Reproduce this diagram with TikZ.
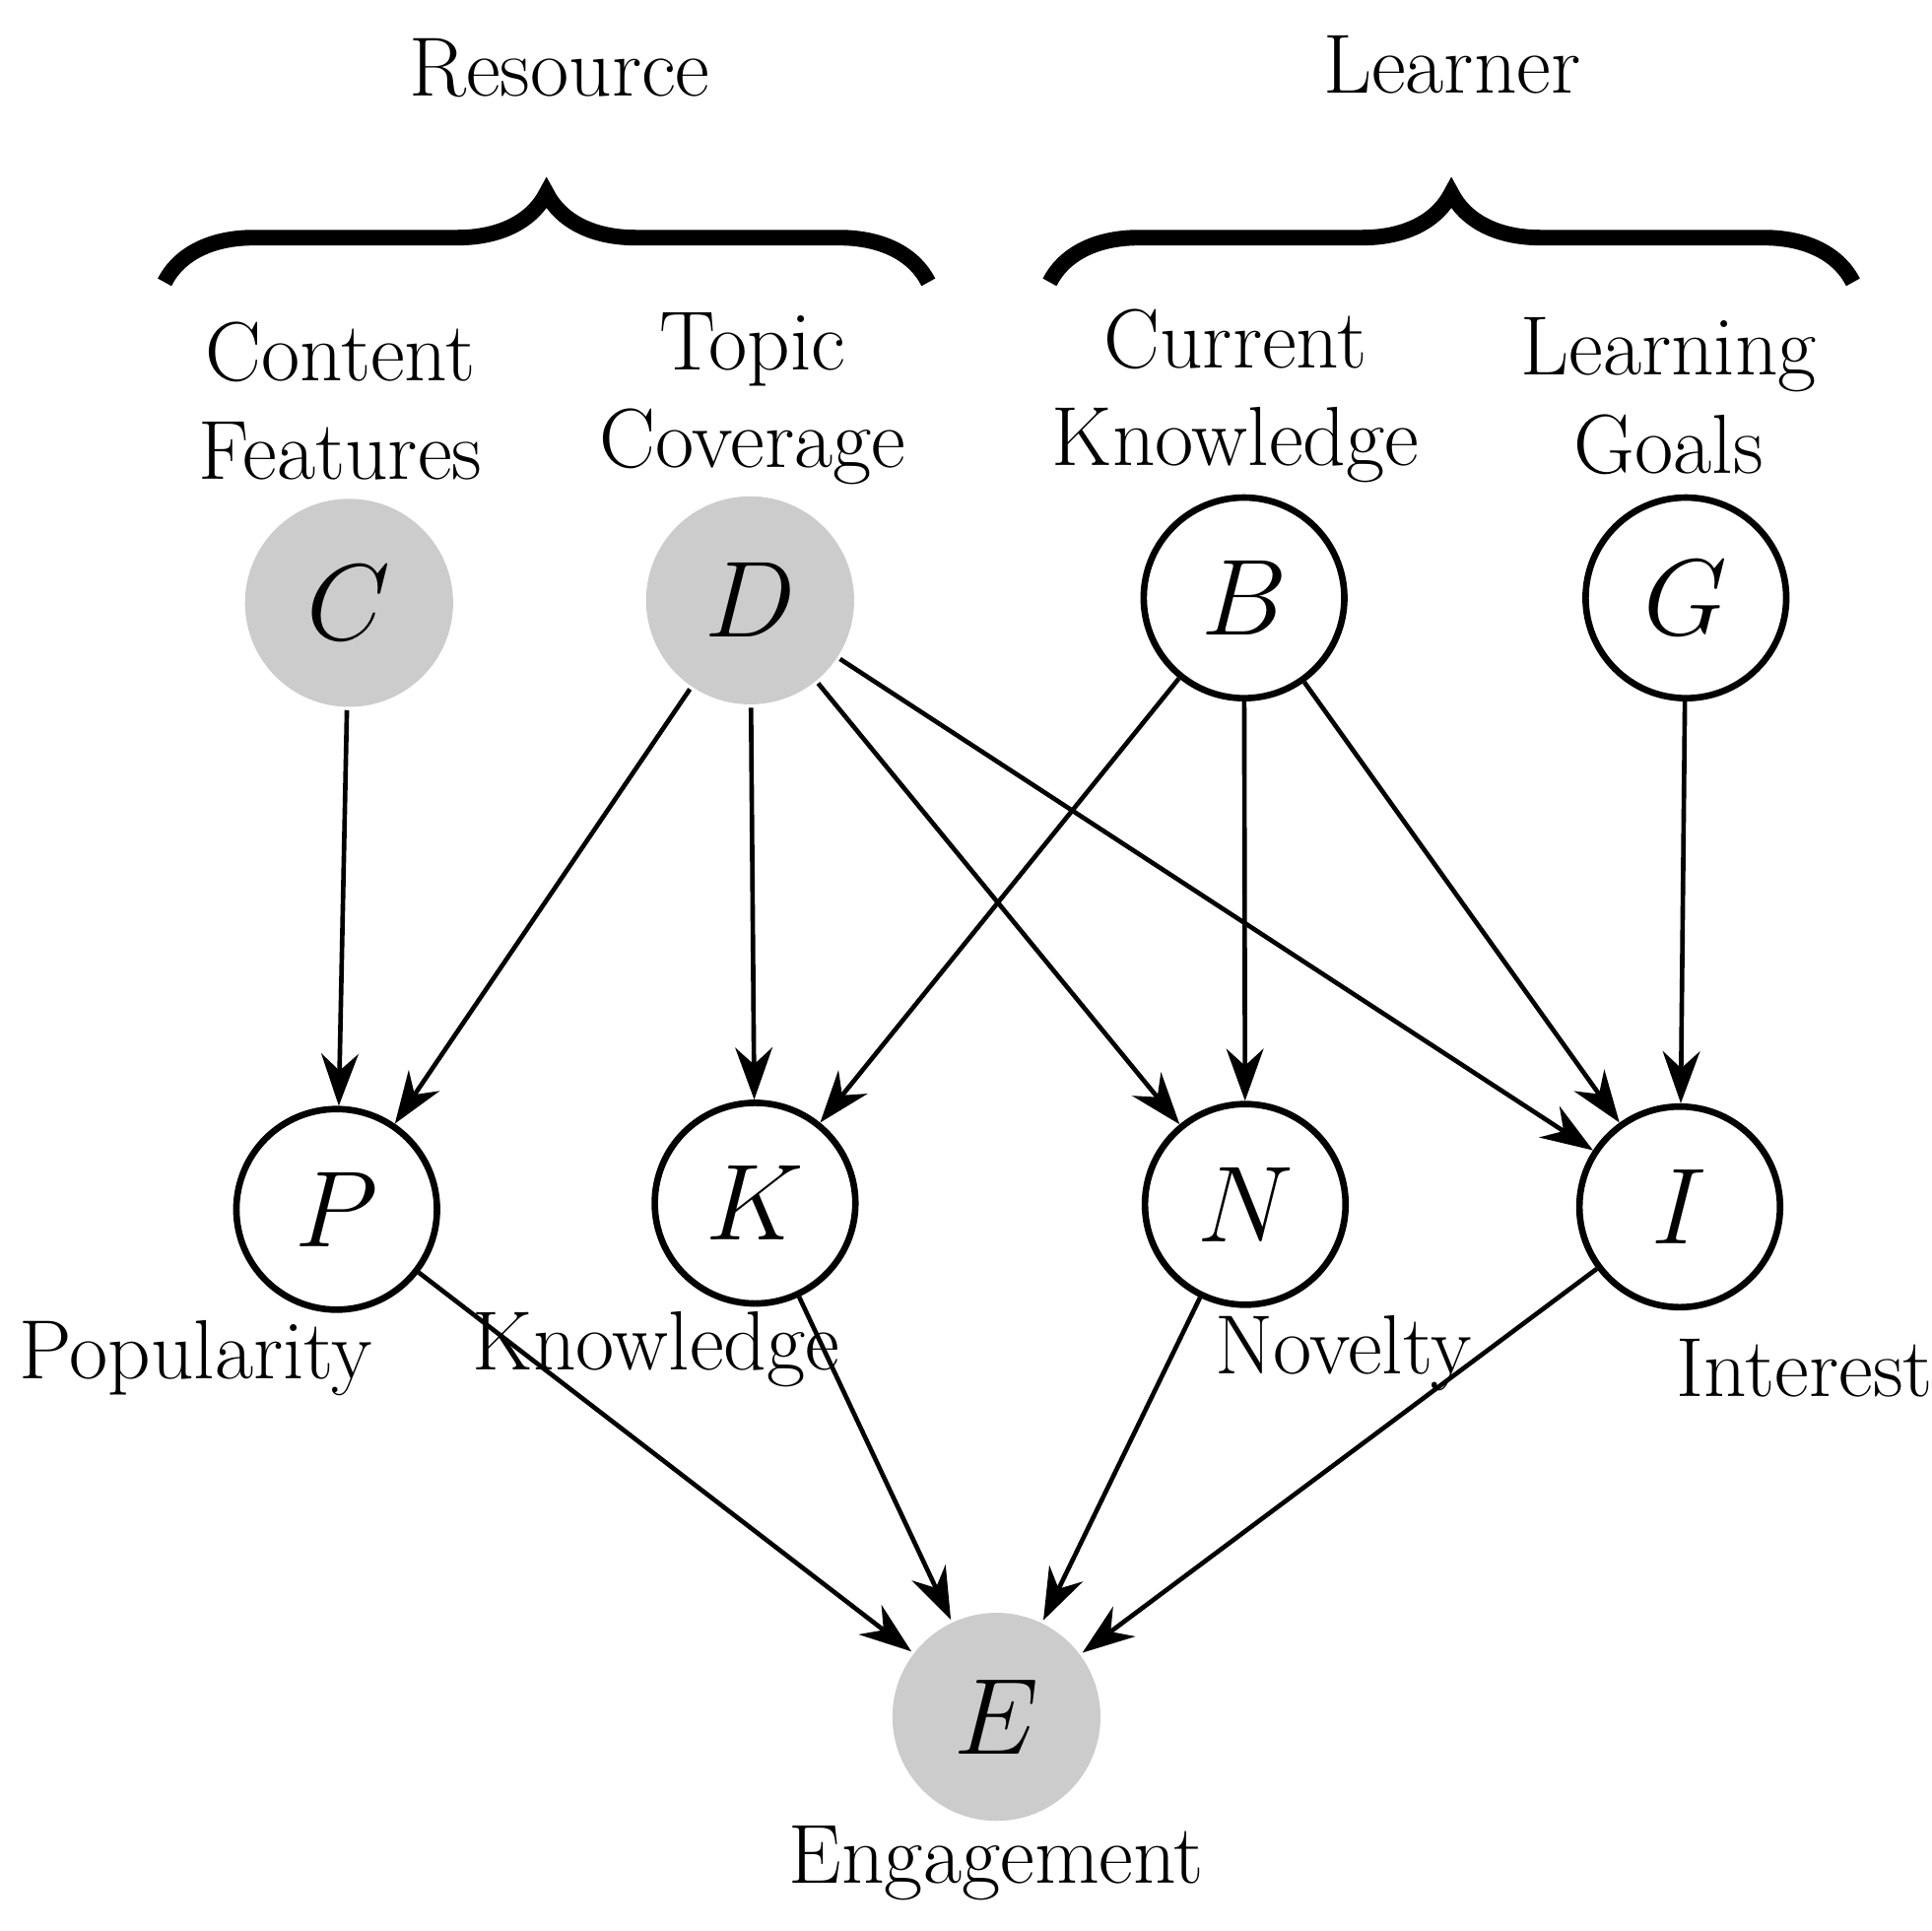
\documentclass[tikz,border=0pt]{standalone}
\usetikzlibrary{decorations.pathreplacing,arrows.meta}
\begin{document}
\begin{tikzpicture}[x=0.01cm,y=-0.01cm,
  v/.style={circle,draw=black,line width=1.5pt,minimum size=1.62cm,inner sep=0pt,font=\fontsize{28}{28}\selectfont},
  o/.style={v,fill=white},
  h/.style={v,draw=none,fill=black!20,minimum size=1.68cm},
  lab/.style={font=\fontsize{19.3}{22.5}\selectfont,align=center,inner sep=0pt},
  e/.style={-{Stealth[length=0.42cm,width=0.3cm]},line width=1.05pt},
  br/.style={decorate,decoration={brace,amplitude=0.72cm},line width=3.6pt}]
\useasboundingbox (0,0) rectangle (1560,1560);
\node[h] (C) at (282,487) {$C$};
\node[h] (D) at (606,485) {$D$};
\node[o] (B) at (1005,483) {$B$};
\node[o] (G) at (1362,483) {$G$};
\node[o] (P) at (272,977) {$P$};
\node[o] (K) at (610,972) {$K$};
\node[o] (N) at (1006,973) {$N$};
\node[o] (I) at (1357,975) {$I$};
\node[h] (E) at (805,1387) {$E$};
\node[lab] (lc) at (275,324) {Content\\Features};
\node[lab] (ld) at (608,322) {Topic\\Coverage};
\node[lab] (lb) at (998,320) {Current\\Knowledge};
\node[lab] (lg) at (1348,320) {Learning\\Goals};
\node[lab] (lr) at (452,55) {Resource};
\node[lab] (ll) at (1173,52) {Learner};
\node[lab] (lp) at (158,1097) {Popularity};
\node[lab] (lk) at (530,1090) {Knowledge};
\node[lab] (ln) at (1085,1093) {Novelty};
\node[lab] (li) at (1458,1105) {Interest};
\node[lab] (le) at (805,1505) {Engagement};
\coordinate (r1) at (133,228); \coordinate (r2) at (750,228);
\coordinate (l1) at (848,228); \coordinate (l2) at (1497,228);
\draw[br] (r1) -- (r2);
\draw[br] (l1) -- (l2);
\draw[e] (C) -- (P);
\draw[e] (D) -- (P);
\draw[e] (D) -- (K);
\draw[e] (D) -- (N);
\draw[e] (D) -- (I);
\draw[e] (B) -- (K);
\draw[e] (B) -- (N);
\draw[e] (B) -- (I);
\draw[e] (G) -- (I);
\draw[e] (P) -- (E);
\draw[e] (K) -- (E);
\draw[e] (N) -- (E);
\draw[e] (I) -- (E);
\end{tikzpicture}
\end{document}
